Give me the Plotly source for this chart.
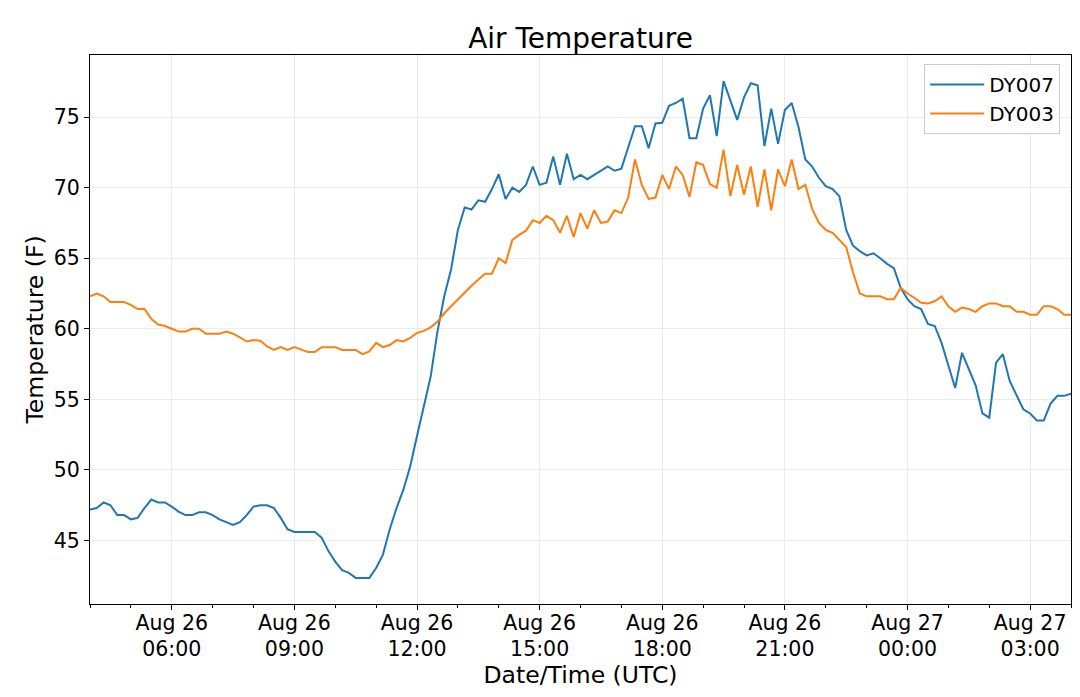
import pandas as pd
import plotly.graph_objects as go

# 10 minute samples, Aug 26 04:00 UTC -> Aug 27 04:00 UTC
times = pd.date_range("2018-08-26 04:00", "2018-08-27 04:00", freq="10min")

dy007 = [
    # 04:00 - 07:50
    47.2, 47.3, 47.7, 47.5, 46.8, 46.8, 46.5, 46.6, 47.3, 47.9, 47.7, 47.7,
    47.4, 47.05, 46.8, 46.8, 47.0, 47.0, 46.8, 46.5, 46.3, 46.1, 46.3, 46.8,
    # 08:00 - 11:50
    47.4, 47.5, 47.5, 47.3, 46.6, 45.8, 45.6, 45.6, 45.6, 45.6, 45.2, 44.25,
    43.5, 42.9, 42.7, 42.35, 42.35, 42.35, 43.05, 44.0, 45.8, 47.3, 48.6, 50.25,
    # 12:00 - 15:50
    52.4, 54.6, 56.6, 59.8, 62.3, 64.2, 67.0, 68.6, 68.45, 69.1, 69.0, 69.9,
    70.95, 69.2, 70.0, 69.7, 70.2, 71.5, 70.2, 70.35, 72.2, 70.2, 72.4, 70.6,
    # 16:00 - 19:50
    70.9, 70.6, 70.9, 71.2, 71.5, 71.2, 71.35, 72.85, 74.35, 74.35, 72.8, 74.55,
    74.6, 75.8, 76.0, 76.3, 73.5, 73.5, 75.6, 76.55, 73.65, 77.55, 76.1, 74.8,
    # 20:00 - 23:50
    76.4, 77.4, 77.25, 72.95, 75.6, 73.1, 75.5, 76.0, 74.3, 72.0, 71.5, 70.7,
    70.1, 69.9, 69.4, 67.0, 65.9, 65.5, 65.2, 65.35, 65.0, 64.6, 64.3, 62.9,
    # 00:00 - 04:00
    62.1, 61.6, 61.4, 60.35, 60.2, 59.0, 57.4, 55.8, 58.3, 57.2, 56.0, 54.0,
    53.7, 57.6, 58.2, 56.3, 55.3, 54.3, 54.0, 53.5, 53.5, 54.7, 55.25, 55.25,
    55.4,
]

dy003 = [
    # 04:00 - 07:50
    62.3, 62.5, 62.3, 61.9, 61.9, 61.9, 61.7, 61.4, 61.4, 60.7, 60.3, 60.2,
    60.0, 59.8, 59.8, 60.0, 60.0, 59.65, 59.65, 59.65, 59.8, 59.65, 59.4, 59.1,
    # 08:00 - 11:50
    59.2, 59.15, 58.75, 58.5, 58.7, 58.5, 58.7, 58.5, 58.35, 58.35, 58.7, 58.7,
    58.7, 58.5, 58.5, 58.5, 58.2, 58.4, 59.0, 58.7, 58.85, 59.2, 59.1, 59.35,
    # 12:00 - 15:50
    59.7, 59.85, 60.1, 60.5, 61.1, 61.6, 62.1, 62.6, 63.05, 63.5, 63.9, 63.9,
    65.0, 64.65, 66.3, 66.65, 66.95, 67.7, 67.5, 68.0, 67.7, 66.8, 68.0, 66.5,
    # 16:00 - 19:50
    68.2, 67.1, 68.4, 67.5, 67.6, 68.4, 68.2, 69.3, 72.0, 70.2, 69.2, 69.3,
    70.9, 69.9, 71.5, 70.9, 69.35, 71.8, 71.6, 70.25, 70.0, 72.7, 69.4, 71.6,
    # 20:00 - 23:50
    69.5, 71.5, 68.65, 71.3, 68.4, 71.3, 70.1, 72.0, 69.9, 70.2, 68.5, 67.5,
    67.0, 66.8, 66.3, 65.8, 64.0, 62.5, 62.3, 62.3, 62.3, 62.1, 62.1, 62.9,
    # 00:00 - 04:00
    62.5, 62.2, 61.85, 61.8, 61.95, 62.3, 61.6, 61.2, 61.5, 61.4, 61.2, 61.6,
    61.8, 61.8, 61.6, 61.6, 61.2, 61.2, 61.0, 61.0, 61.6, 61.6, 61.4, 61.0,
    61.0,
]

tick_times = ["2018-08-26 06:00", "2018-08-26 09:00", "2018-08-26 12:00",
              "2018-08-26 15:00", "2018-08-26 18:00", "2018-08-26 21:00",
              "2018-08-27 00:00", "2018-08-27 03:00"]
tick_labels = ["Aug 26<br>06:00", "Aug 26<br>09:00", "Aug 26<br>12:00",
               "Aug 26<br>15:00", "Aug 26<br>18:00", "Aug 26<br>21:00",
               "Aug 27<br>00:00", "Aug 27<br>03:00"]
y_ticks = [45, 50, 55, 60, 65, 70, 75]

font = "DejaVu Sans"

fig = go.Figure()
fig.add_trace(go.Scatter(x=times, y=dy007, mode="lines", name="DY007",
                         line=dict(color="#1f77b4", width=2)))
fig.add_trace(go.Scatter(x=times, y=dy003, mode="lines", name="DY003",
                         line=dict(color="#ff7f0e", width=2)))

# page body adds ~8px margin, so the figure is a bit smaller than the window
fig.update_layout(
    width=1072, height=689,
    margin=dict(l=82, r=9, t=47, b=93),
    paper_bgcolor="white", plot_bgcolor="white",
    font=dict(family=font, size=20.5, color="black"),
    title=dict(text="Air Temperature", x=0.5, xref="paper", xanchor="center",
               y=1 - 30 / 689, yanchor="middle", yref="container",
               font=dict(size=28, family=font, color="black")),
    showlegend=True,
    legend=dict(x=0.989, xanchor="right", y=0.9835, yanchor="top",
                bgcolor="white", bordercolor="#cccccc", borderwidth=1,
                font=dict(size=20, family=font), tracegroupgap=0,
                itemwidth=54),
)

fig.update_xaxes(
    range=["2018-08-26 04:00", "2018-08-27 04:00"],
    tickvals=tick_times, ticktext=tick_labels,
    ticks="outside", ticklen=5, tickwidth=1, tickcolor="black",
    showgrid=True, gridcolor="#ebebeb", gridwidth=1,
    showline=True, linecolor="black", linewidth=1, mirror=True,
    zeroline=False, automargin=False,
    tickfont=dict(size=20.5, family=font), ticklabelstandoff=-5,
    minor=dict(ticks="outside", ticklen=3, tickcolor="black",
               dtick=3600000, tick0="2018-08-26 04:00", showgrid=False),
    title=dict(text="Date/Time (UTC)", font=dict(size=23.5, family=font),
               standoff=0),
)
fig.update_yaxes(
    range=[40.5, 79.4],
    tickvals=y_ticks,
    ticks="outside", ticklen=5, tickwidth=1, tickcolor="black",
    showgrid=True, gridcolor="#ebebeb", gridwidth=1,
    showline=True, linecolor="black", linewidth=1, mirror=True,
    zeroline=False, automargin=False,
    tickfont=dict(size=20.5, family=font),
    title=dict(text="Temperature (F)", font=dict(size=23.5, family=font),
               standoff=3),
)

fig.write_html("out.html")
